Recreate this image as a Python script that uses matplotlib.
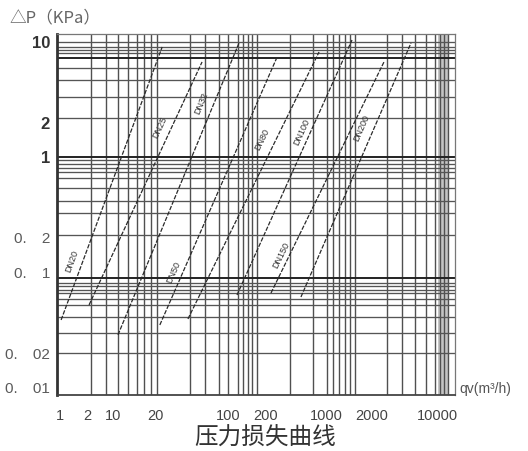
import numpy as np
import matplotlib
matplotlib.use("Agg")
import matplotlib.pyplot as plt

plt.rcParams['font.family'] = ['Liberation Sans', 'Noto Sans CJK SC', 'DejaVu Sans']

# ---- data ----
dn_labels = ["DN20", "DN25", "DN32", "DN50", "DN80", "DN100", "DN150", "DN200"]
q_start = [1.10, 2.10, 4.10, 10.8, 20.7, 64.4, 141.5, 283]
p_start = [0.0388, 0.0524, 0.0288, 0.0351, 0.0396, 0.0639, 0.0665, 0.0614]
q_end = [11.4, 28.7, 67.5, 163, 430, 922, 1933, 3612]
p_end = [9.05, 6.71, 9.80, 7.41, 8.19, 10.4, 6.71, 9.80]
label_q = [1.42, 10.8, 28.5, 15.0, 115, 285, 178, 1160]
label_p = [0.124, 1.80, 2.96, 0.101, 1.41, 1.66, 0.142, 1.80]

x_tick_pos = [1.07, 2.0, 3.66, 9.67, 52.2, 125.5, 505, 1438, 6608]
x_tick_labels = ["1", "2", "10", "20", "100", "200", "1000", "2000", "10000"]
y_tick_pos = [10, 2, 1, 0.2, 0.1, 0.02, 0.01]
y_tick_labels = ["10", "2", "1", "0.\u30002", "0.\u30001", "0.\u300002", "0.\u300001"]

v_grid = [2.18, 3.11, 4.10, 5.17, 6.37, 7.49, 8.80, 10.1, 21.7, 30.7, 42.5, 52.3,
          65.9, 74.0, 83.1, 91.2, 102, 220, 374, 517, 594, 683, 784, 880, 989,
          2073, 2933, 3963, 5111, 6295, 7063, 7748, 8505]
h_grid = [10, 9.1, 8.5, 8.0, 7.3, 5.9, 4.7, 3.3, 2.18, 1.0, 0.94, 0.87, 0.81,
          0.74, 0.66, 0.54, 0.42, 0.33, 0.21, 0.089, 0.082, 0.077, 0.071,
          0.066, 0.059, 0.052, 0.041, 0.030, 0.020]
h_heavy = [7.3, 1.0, 0.089]
band = (6745, 8505)

fig = plt.figure(figsize=(5.28, 4.51), dpi=100)
ax = fig.add_axes([57/528, 1-395/451, (455-57)/528, (395-34)/451])
ax.set_xscale('log')
ax.set_yscale('log')
ax.set_xlim(1, 10000)
ax.set_ylim(0.00867, 11.73)

ax.axvspan(band[0], band[1], color='#c4c4c4', lw=0, zorder=0)
for v in v_grid:
    ax.axvline(v, color='#505050', lw=1.0, zorder=1)
for h in h_grid:
    heavy = h in h_heavy
    ax.axhline(h, color='#222222' if heavy else '#555555', lw=1.4 if heavy else 0.95, zorder=1)

for i, name in enumerate(dn_labels):
    ax.plot([q_start[i], q_end[i]], [p_start[i], p_end[i]], color='#2a2a2a', lw=0.9,
            linestyle=(0, (3.5, 1.2)), zorder=3)
    (x0, y0), (x1, y1) = ax.transData.transform([(q_start[i], p_start[i]), (q_end[i], p_end[i])])
    ang = np.degrees(np.arctan2(y1 - y0, x1 - x0))
    ax.text(label_q[i], label_p[i], name, rotation=ang, rotation_mode='anchor',
            ha='center', va='center', fontsize=6.5, color='#333333', zorder=4)

for s in ['top', 'right']:
    ax.spines[s].set_color('#777777')
    ax.spines[s].set_linewidth(0.9)
ax.spines['left'].set_color('#333333')
ax.spines['left'].set_linewidth(2.0)
ax.spines['bottom'].set_color('#444444')
ax.spines['bottom'].set_linewidth(1.3)

ax.minorticks_off()
ax.set_xticks(x_tick_pos)
ax.set_xticklabels(x_tick_labels)
ax.set_yticks(y_tick_pos)
ax.set_yticklabels(y_tick_labels)
ax.tick_params(axis='both', length=0)
ax.tick_params(axis='x', pad=10, labelsize=10.5, labelcolor='#444444')
ax.tick_params(axis='y', pad=5, labelsize=11, labelcolor='#5a5a5a')
for lab in ax.get_yticklabels():
    if lab.get_text() in ("10", "2", "1"):
        lab.set_fontweight('bold')
        lab.set_color('#333333')
        lab.set_fontsize(12)

fig.text(10/528, 1-18/451, "△P（KPa）", fontsize=12, color='#666666', ha='left', va='center',
         family=['Noto Sans CJK SC', 'DejaVu Sans'])
fig.text(459/528, 1-389/451, "qv(m³/h)", fontsize=10, color='#555555', ha='left', va='center')
fig.text(265/528, 1-438/451, "压力损失曲线", fontsize=17, color='#333333', ha='center', va='center',
         family=['Noto Sans CJK SC', 'DejaVu Sans'])

fig.savefig("out.png", dpi=100)
